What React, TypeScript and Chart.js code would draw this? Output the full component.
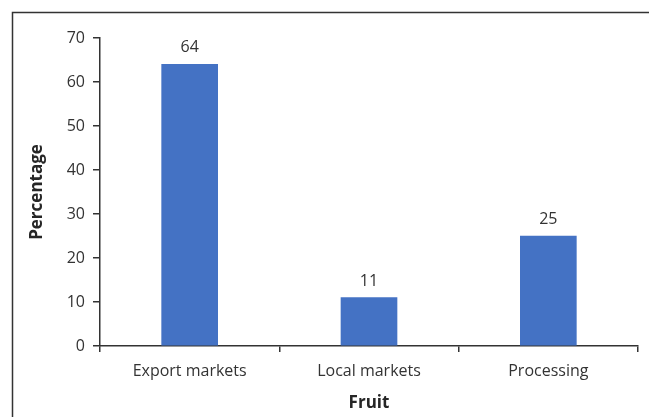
import React, { useEffect, useRef } from "react";
import { Chart, registerables } from "chart.js";

Chart.register(...registerables);

const categories = ["Export markets", "Local markets", "Processing"];
const percentages = [64, 11, 25];
const yTicks = [0, 10, 20, 30, 40, 50, 60, 70];

const FONT = "'Open Sans', sans-serif";
const TEXT = "#333333";

const framePlugin = {
  id: "frame",
  beforeDraw(chart: any) {
    const ctx = chart.ctx;
    ctx.save();
    ctx.fillStyle = "#ffffff";
    ctx.fillRect(0, 0, chart.width, chart.height);
    ctx.strokeStyle = "#333333";
    ctx.lineWidth = 1.5;
    ctx.beginPath();
    ctx.moveTo(12.5, chart.height + 5);
    ctx.lineTo(12.5, 12.5);
    ctx.lineTo(chart.width + 5, 12.5);
    ctx.stroke();
    ctx.restore();
  },
};

const valueLabels = {
  id: "valueLabels",
  afterDatasetsDraw(chart: any) {
    const ctx = chart.ctx;
    const meta = chart.getDatasetMeta(0);
    ctx.save();
    ctx.font = `16px ${FONT}`;
    ctx.fillStyle = TEXT;
    ctx.textAlign = "center";
    ctx.textBaseline = "alphabetic";
    meta.data.forEach((bar: any, i: number) => {
      ctx.fillText(String(percentages[i]), bar.x, bar.y - 12);
    });
    ctx.restore();
  },
};

export default function App() {
  const ref = useRef<HTMLCanvasElement | null>(null);
  useEffect(() => {
    document.body.style.margin = "0";
    const chart = new Chart(ref.current as HTMLCanvasElement, {
      type: "bar",
      data: {
        labels: categories,
        datasets: [
          {
            data: percentages,
            backgroundColor: "#4472C4",
            barThickness: 56,
          },
        ],
      },
      options: {
        animation: false,
        responsive: false,
        layout: { padding: { top: 38, right: 11, left: 0, bottom: 0 } },
        plugins: { legend: { display: false }, tooltip: { enabled: false } },
        scales: {
          x: {
            border: { display: true, color: "#333333", width: 1.5 },
            grid: {
              display: true,
              drawOnChartArea: false,
              drawTicks: true,
              tickLength: 6,
              color: "#333333",
              lineWidth: 1.5,
              offset: true,
            },
            ticks: { color: TEXT, font: { family: FONT, size: 16 }, padding: 10 },
            title: {
              display: true,
              text: "Fruit",
              color: "#262626",
              font: { family: FONT, size: 17, weight: "bold" },
              padding: { top: 0, bottom: 4 },
            },
            afterFit(scale: any) {
              scale.height = 71;
            },
          },
          y: {
            min: 0,
            max: 70,
            border: { display: true, color: "#333333", width: 1.5 },
            grid: {
              display: true,
              drawOnChartArea: false,
              drawTicks: true,
              tickLength: 7,
              color: "#333333",
              lineWidth: 1.5,
            },
            afterBuildTicks(scale: any) {
              scale.ticks = yTicks.map((v) => ({ value: v }));
            },
            ticks: { color: TEXT, font: { family: FONT, size: 16 }, padding: 8 },
            title: {
              display: true,
              text: "Percentage",
              color: "#262626",
              font: { family: FONT, size: 17, weight: "bold" },
              padding: { top: 27, bottom: 0 },
            },
            afterFit(scale: any) {
              scale.width = 100;
            },
          },
        },
      },
      plugins: [framePlugin, valueLabels],
    });
    return () => chart.destroy();
  }, []);
  return (
    <div style={{ width: 649, height: 417 }}>
      <canvas ref={ref} width={649} height={417} style={{ display: "block" }} />
    </div>
  );
}
